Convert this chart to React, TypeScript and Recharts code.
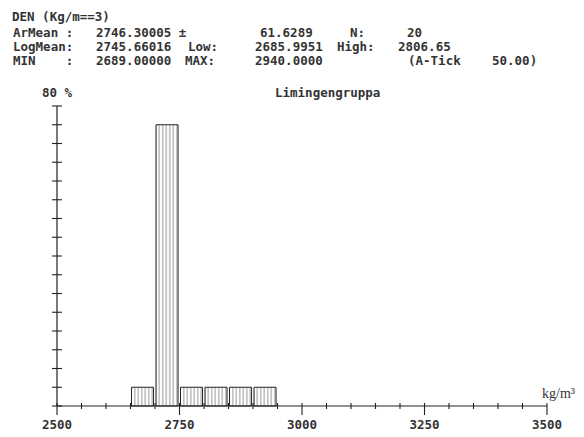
import { BarChart, Bar, XAxis, YAxis } from 'recharts';

// histogram bins (kg/m3), width 50
const binStart = [2650, 2700, 2750, 2800, 2850, 2900];
const percent = [5, 75, 5, 5, 5, 5];
const BIN = 50;

const xTicks = [
  2500, 2550, 2600, 2650, 2700, 2750, 2800, 2850, 2900, 2950, 3000,
  3050, 3100, 3150, 3200, 3250, 3300, 3350, 3400, 3450, 3500,
];
const xLabels = [2500, 2750, 3000, 3250, 3500];
const yTicks = [0, 5, 10, 15, 20, 25, 30, 35, 40, 45, 50, 55, 60, 65, 70, 75, 80];

const data = binStart.map((s, i) => ({ mid: s + BIN / 2, pct: percent[i] }));

const W = 584;
const H = 437;
const LEFT = 57;
const PLOT_W = 490;
const X_MIN = 2500;
const X_MAX = 3500;
const FONT = '"DejaVu Sans Mono", monospace';

const header = [
  { t: 'DEN (Kg/m==3)', x: 12, y: 16 },
  { t: 'ArMean :', x: 13, y: 32 },
  { t: '2746.30005 ±', x: 96, y: 32 },
  { t: '61.6289', x: 260, y: 32 },
  { t: 'N:', x: 350, y: 32 },
  { t: '20', x: 407, y: 32 },
  { t: 'LogMean:', x: 13, y: 46 },
  { t: '2745.66016', x: 96, y: 46 },
  { t: 'Low:', x: 188, y: 46 },
  { t: '2685.9951', x: 255, y: 46 },
  { t: 'High:', x: 337, y: 46 },
  { t: '2806.65', x: 398, y: 46 },
  { t: 'MIN    :', x: 13, y: 60 },
  { t: '2689.00000', x: 96, y: 60 },
  { t: 'MAX:', x: 185, y: 60 },
  { t: '2940.0000', x: 255, y: 60 },
  { t: '(A-Tick', x: 408, y: 60 },
  { t: '50.00)', x: 492, y: 60 },
];

const XTick = (props: any) => {
  const { x, y, payload } = props;
  const major = xLabels.includes(payload.value);
  return (
    <g>
      <line x1={x} x2={x} y1={y - 3} y2={major ? y + 9 : y + 3} stroke="#222" strokeWidth={1.1} />
      {major && (
        <text x={x} y={y + 23} textAnchor="middle" fontFamily={FONT} fontWeight="bold" fontSize={12.5} fill="#333">
          {payload.value}
        </text>
      )}
    </g>
  );
};

const YTick = (props: any) => {
  const { x, y } = props;
  return <line x1={x - 5} x2={x + 5} y1={y} y2={y} stroke="#222" strokeWidth={1.1} />;
};

export default function App() {
  return (
    <div style={{ position: 'absolute', left: 0, top: 0, width: W, height: H, background: '#fff' }}>
      <BarChart
        width={W}
        height={H}
        data={data}
        margin={{ top: 106, right: W - LEFT - PLOT_W, left: LEFT - 20, bottom: 1 }}
      >
        <defs>
          <pattern id="hatch" patternUnits="userSpaceOnUse" width={3.5} height={10}>
            <rect x={0} y={0} width={3.5} height={10} fill="#fff" />
            <line x1={1.75} x2={1.75} y1={0} y2={10} stroke="#8a8a8a" strokeWidth={0.9} />
          </pattern>
        </defs>
        <XAxis
          dataKey="mid"
          type="number"
          domain={[X_MIN, X_MAX]}
          ticks={xTicks}
          interval={0}
          height={30}
          tickSize={0}
          tickMargin={0}
          tick={<XTick />}
          stroke="#222"
          strokeWidth={1.2}
        />
        <YAxis
          type="number"
          domain={[0, 80]}
          ticks={yTicks}
          interval={0}
          width={20}
          tickSize={0}
          tickMargin={0}
          tick={<YTick />}
          stroke="#222"
          strokeWidth={1.2}
        />
        <Bar
          dataKey="pct"
          barSize={(PLOT_W * BIN) / (X_MAX - X_MIN)}
          fill="url(#hatch)"
          stroke="#222"
          strokeWidth={1}
          isAnimationActive={false}
        />
      </BarChart>
      <svg width={W} height={H} style={{ position: 'absolute', left: 0, top: 0, pointerEvents: 'none' }}>
        {header.map((h, i) => (
          <text key={i} x={h.x} y={h.y} dominantBaseline="central" fontFamily={FONT} fontWeight="bold" fontSize={12.5} fill="#333" xmlSpace="preserve">
            {h.t}
          </text>
        ))}
        <text x={42} y={92} dominantBaseline="central" fontFamily={FONT} fontWeight="bold" fontSize={12.5} fill="#333" xmlSpace="preserve">
          80 %
        </text>
        <text x={275} y={92} dominantBaseline="central" fontFamily={FONT} fontWeight="bold" fontSize={12.5} fill="#333">
          Limingengruppa
        </text>
        <text x={542} y={393} dominantBaseline="central" fontFamily='"Liberation Serif", serif' fontSize={14} fill="#333">
          kg/m³
        </text>
      </svg>
    </div>
  );
}
